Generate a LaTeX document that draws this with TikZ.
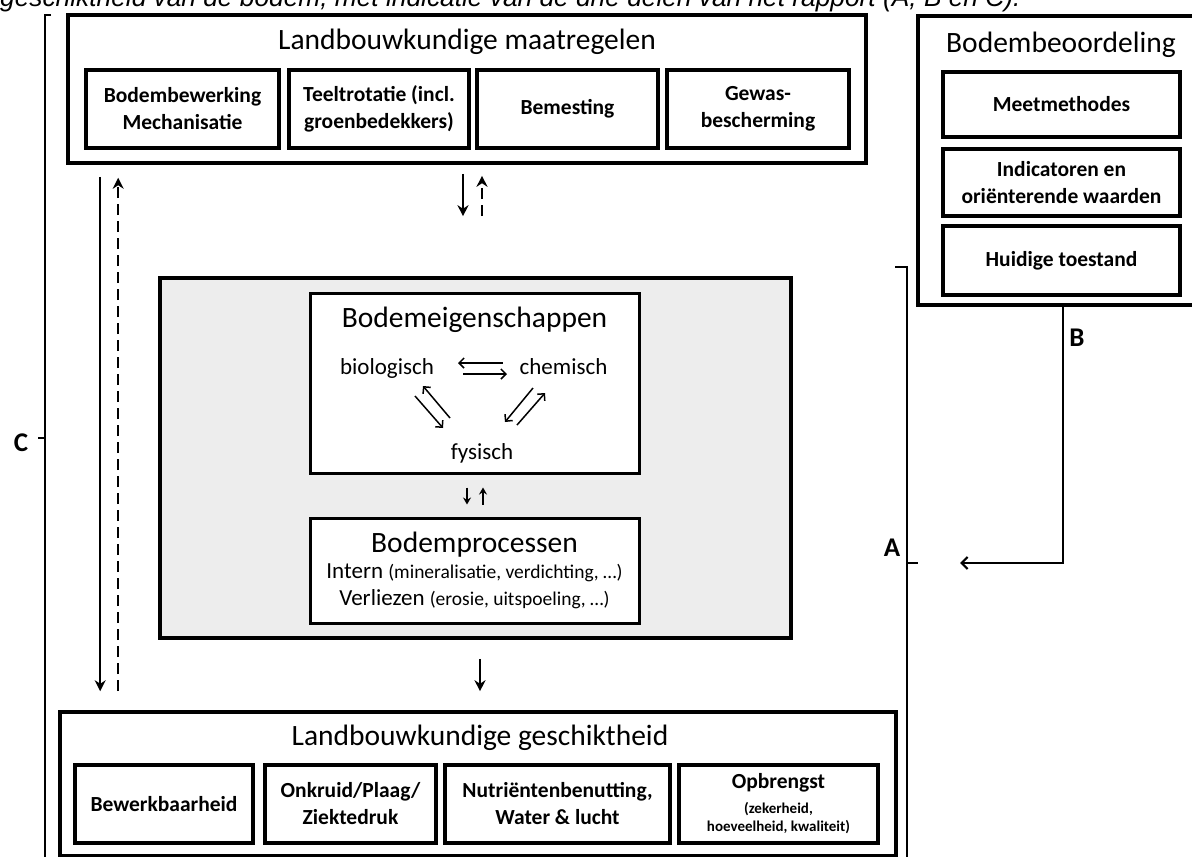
\documentclass[tikz,border=0pt]{standalone}
\usepackage{fontspec}
\setmainfont{Carlito}
\newfontfamily\captionfont{Liberation Sans}
\usetikzlibrary{arrows.meta}

\begin{document}
\begin{tikzpicture}[x=1pt,y=-1pt]
	\tikzstyle{outer box}=[draw,line width=3.6pt,inner sep=0pt]
	\tikzstyle{sub box}=[draw,line width=3.6pt,inner sep=0pt,align=center,font=\fontsize{21.5}{27}\selectfont\bfseries]
	\tikzstyle{heading}=[inner sep=0pt,font=\fontsize{29.5}{35}\selectfont]
	\tikzstyle{property}=[inner sep=0pt,anchor=base,font=\fontsize{23}{28}\selectfont]
	\tikzstyle{part}=[inner sep=0pt,font=\fontsize{27}{30}\selectfont\bfseries]

	\tikzstyle{flow}=[-{Stealth[length=11pt,width=11pt]},line width=2.2pt]
	\tikzstyle{dashed flow}=[flow,dash pattern=on 11pt off 6pt]
	\tikzstyle{swap}=[-{Straight Barb[length=5pt,width=10pt]},line width=1.5pt]
	\tikzstyle{small flow}=[-{Stealth[length=7pt,width=8pt]},line width=2pt]
	\tikzstyle{bracket}=[line width=2.2pt]

	\useasboundingbox (0,0) rectangle (1192,857);

	\node[anchor=base west,inner sep=0pt,font=\captionfont\itshape\fontsize{26.3}{30}\selectfont] (caption) at (0,6) {geschiktheid van de bodem, met indicatie van de drie delen van het rapport (A, B en C).};

	% maatregelen
	\node[outer box,minimum width=798pt,minimum height=148pt] (maat) at (467,89) {};
	\node[heading] (maattitle) at (467,42) {Landbouwkundige maatregelen};
	\node[sub box,minimum width=193pt,minimum height=78pt] (bewerking) at (182.5,109) {Bodembewerking\\Mechanisatie};
	\node[sub box,minimum width=180pt,minimum height=78pt] (rotatie) at (379,109) {Teeltrotatie (incl.\\groenbedekkers)};
	\node[sub box,minimum width=181pt,minimum height=78pt] (bemesting) at (567.5,109) {Bemesting};
	\node[sub box,minimum width=182pt,minimum height=78pt] (gewas) at (758,109) {Gewas-\\bescherming};

	% bodembeoordeling
	\node[outer box,minimum width=288pt,minimum height=289pt] (bod) at (1062,160.5) {};
	\node[heading] (bodtitle) at (1061,45) {Bodembeoordeling};
	\node[sub box,minimum width=237pt,minimum height=65pt] (meet) at (1061.5,104.5) {Meetmethodes};
	\node[sub box,minimum width=237pt,minimum height=67pt] (indic) at (1061.5,182.5) {Indicatoren en\\oriënterende waarden};
	\node[sub box,minimum width=237pt,minimum height=69pt] (huidig) at (1061.5,260.5) {Huidige toestand};

	% bodem
	\node[outer box,fill=black!7,minimum width=631pt,minimum height=360pt] (kern) at (475.5,458) {};
	\node[outer box,line width=3pt,fill=white,minimum width=329pt,minimum height=180pt] (eig) at (474.5,383) {};
	\node[heading] (eigtitle) at (474.5,320) {Bodemeigenschappen};
	\node[property] (bio) at (387,374) {biologisch};
	\node[property] (chem) at (563.5,374) {chemisch};
	\node[property] (fys) at (482,459) {fysisch};
	\node[outer box,line width=3pt,fill=white,align=center,minimum width=329pt,minimum height=105pt,font=\fontsize{23}{27}\selectfont] (proc) at (474.5,570.5) {{\fontsize{29.5}{35}\selectfont Bodemprocessen}\\[-1pt]Intern {\fontsize{19.5}{23}\selectfont (mineralisatie, verdichting, …)}\\Verliezen {\fontsize{19.5}{23}\selectfont (erosie, uitspoeling, …)}};

	\draw[swap] ([xshift=-61pt,yshift=11pt]chem.base) -- ([xshift=71pt,yshift=11pt]bio.base);
	\draw[swap] ([xshift=76pt]bio.base) -- ([xshift=-56.5pt]chem.base);
	\draw[swap] ([xshift=28pt,yshift=-22pt]bio.base) -- ([xshift=-39pt,yshift=31pt]fys.base);
	\draw[swap] ([xshift=-32pt,yshift=41pt]fys.base) -- ([xshift=36pt,yshift=-12pt]bio.base);
	\draw[swap] ([xshift=-30.5pt,yshift=-14pt]chem.base) -- ([xshift=23pt,yshift=37pt]fys.base);
	\draw[swap] ([xshift=35pt,yshift=34pt]fys.base) -- ([xshift=-18.5pt,yshift=-19pt]chem.base);
	\draw[small flow,shorten <=13pt,shorten >=12pt] ([xshift=-7.5pt]eig.south) -- ([xshift=-7.5pt]proc.north);
	\draw[small flow,shorten <=12pt,shorten >=13pt] ([xshift=8.5pt]proc.north) -- ([xshift=8.5pt]eig.south);

	% geschiktheid
	\node[outer box,minimum width=836pt,minimum height=144pt] (geschikt) at (478,784) {};
	\node[heading] (geschikttitle) at (480,738) {Landbouwkundige geschiktheid};
	\node[sub box,minimum width=178pt,minimum height=78pt] (bewerkbaar) at (164,804) {Bewerkbaarheid};
	\node[sub box,minimum width=171pt,minimum height=78pt] (onkruid) at (350.5,804) {Onkruid/Plaag/\\Ziektedruk};
	\node[sub box,minimum width=225pt,minimum height=78pt] (nutrient) at (557.5,804) {Nutriëntenbenutting,\\Water \& lucht};
	\node[sub box,minimum width=199pt,minimum height=78pt] (opbrengst) at (778.5,804) {Opbrengst\\[-2pt]{\fontsize{15}{18}\selectfont (zekerheid,}\\[-9pt]{\fontsize{15}{18}\selectfont hoeveelheid, kwaliteit)}};

	\draw[flow,shorten <=9pt,shorten >=60pt] ([xshift=-4pt]maat.south) -- ([xshift=-12.5pt]kern.north);
	\draw[dashed flow,shorten <=60pt,shorten >=11pt] ([xshift=6.5pt]kern.north) -- ([xshift=15pt]maat.south);
	\draw[flow,shorten <=19pt,shorten >=19pt] ([xshift=4.5pt]kern.south) -- ([xshift=2pt]geschikt.north);
	\draw[flow,shorten <=12pt,shorten >=19pt] ([xshift=34pt]maat.south west) -- ([xshift=42pt]geschikt.north west);
	\draw[dashed flow,shorten <=19pt,shorten >=13pt] ([xshift=60pt]geschikt.north west) -- ([xshift=52pt]maat.south west);

	% delen A, B, C
	\node[part] (C) at (21,443) {C};
	\draw[bracket] (51,15) -- (45,15) -- (45,860);
	\draw[bracket] (38,438) -- (45,438);
	\node[part] (A) at (892,548) {A};
	\draw[bracket] (895,267) -- (907,267) -- (907,860);
	\draw[bracket] (907,563) -- (918,563);
	\node[part] (B) at (1077,338) {B};
	\coordinate (bline) at (1063,0);
	\coordinate (aend) at (960,563);
	\draw[-{Straight Barb[length=6pt,width=12pt]},line width=2.2pt] (bod.south -| bline) |- (aend);
\end{tikzpicture}
\end{document}
